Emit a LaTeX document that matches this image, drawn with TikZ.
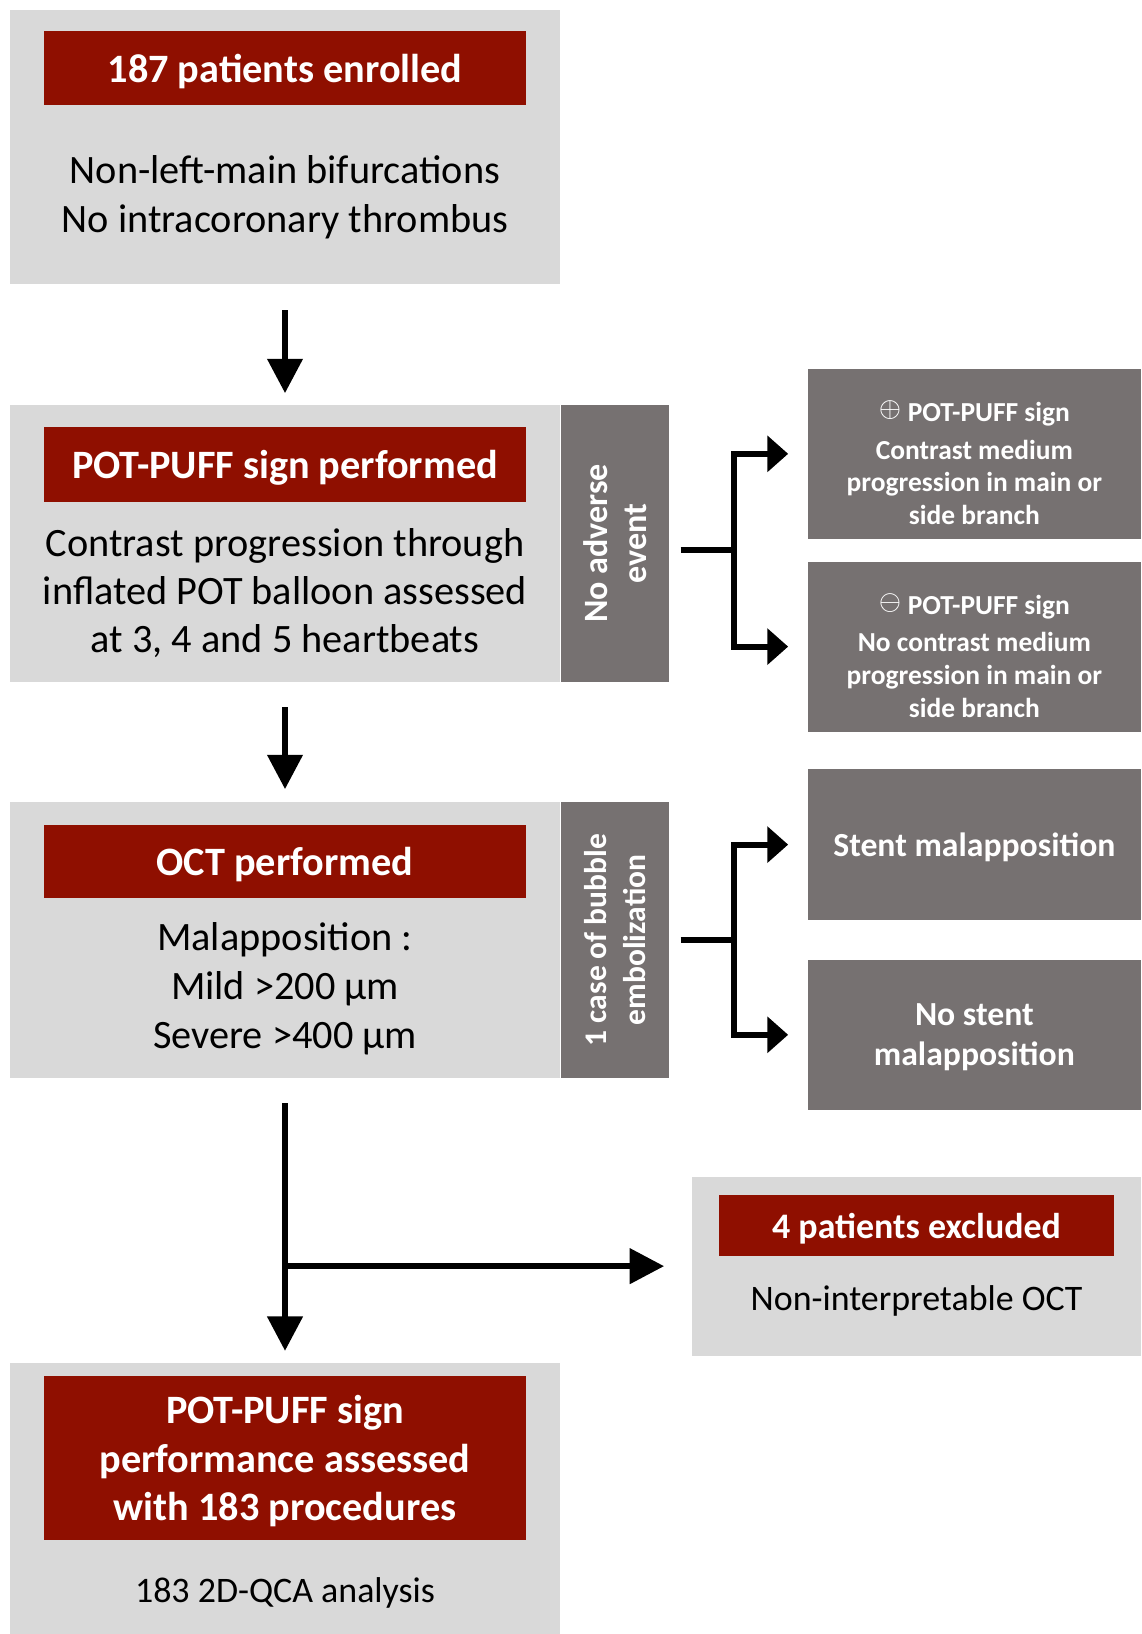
\documentclass[tikz,border=0pt]{standalone}
\usepackage{fontspec}
\setmainfont{Carlito}
\usepackage{tikz}
\usetikzlibrary{arrows.meta,positioning,calc}
\definecolor{potred}{RGB}{143,15,0}
\definecolor{lightgrey}{RGB}{217,217,217}
\definecolor{slate}{RGB}{118,113,113}

\begin{document}
\begin{tikzpicture}[
    lbox/.style={fill=lightgrey, minimum width=5.27cm, inner sep=0pt},
    title/.style={fill=potred, text=white, inner sep=0pt, align=center, text depth=0pt,
                  minimum width=4.63cm, font=\fontsize{11}{13.2}\selectfont\bfseries},
    body/.style={inner sep=0pt, align=center, font=\fontsize{11}{13.4}\selectfont},
    strip/.style={fill=slate, text=white, rotate=90, anchor=north, inner sep=0pt,
                  align=center, minimum width=2.65cm, minimum height=1.04cm,
                  font=\fontsize{8.8}{10.8}\selectfont\bfseries},
    dbox/.style={fill=slate, text=white, inner sep=0pt, align=center, text depth=0pt,
                 minimum width=3.2cm, font=\fontsize{9.2}{11}\selectfont\bfseries},
    dtxt/.style={text=white, inner sep=0pt, align=center,
                 font=\fontsize{7.5}{8.9}\selectfont\bfseries},
    arr/.style={-{Triangle[length=0.33cm, width=0.33cm]}, line width=1.7pt},
    sarr/.style={-{Triangle[length=0.2cm, width=0.34cm]}, line width=1.7pt, shorten >=0.18cm},
    ln/.style={line width=1.7pt}
  ]
  \useasboundingbox (0,0) rectangle (10.95,-15.68);

  \node[lbox, minimum height=2.63cm] (enr) at (2.735,-1.415) {};
  \node[title, minimum height=0.71cm, below=0.2cm of enr.north] (enrT) {187 patients enrolled};
  \node[body, yshift=-0.02cm] (enrB) at ($(enrT.south)!.5!(enr.south)$) {Non-left-main bifurcations\\No intracoronary thrombus};

  \node[lbox, minimum height=2.65cm] (puff) at (2.735,-5.215) {};
  \node[strip, font=\fontsize{9.3}{10.8}\selectfont\bfseries] (puffS) at (puff.east) {No adverse\\event};
  \node[title, minimum height=0.72cm, below=0.21cm of puff.north] (puffT) {POT-PUFF sign performed};
  \node[body, font=\fontsize{11}{13.1}\selectfont] (puffB) at ($(puffT.south)!.5!(puff.south)$) {Contrast progression through\\inflated POT balloon assessed\\at 3, 4 and 5 heartbeats};

  \node[dbox, minimum height=1.63cm] (pos) at (9.35,-4.355) {};
  \node[dtxt] (posT) at ([yshift=-0.085cm]pos.center)
    {\raisebox{.35ex}{$\oplus$} POT-PUFF sign\\[0.05cm]Contrast medium\\progression in main or\\side branch};
  \node[dbox, minimum height=1.63cm] (neg) at (9.35,-6.205) {};
  \node[dtxt] (negT) at ([yshift=-0.085cm]neg.center)
    {\raisebox{.35ex}{$\ominus$} POT-PUFF sign\\[0.05cm]No contrast medium\\progression in main or\\side branch};

  \node[lbox, minimum height=2.64cm] (oct) at (2.735,-9.02) {};
  \node[strip, font=\fontsize{8.6}{10.8}\selectfont\bfseries] (octS) at (oct.east) {1 case of bubble\\embolization};
  \node[title, minimum height=0.70cm, below=0.22cm of oct.north] (octT) {OCT performed};
  \node[body] (octB) at ($(octT.south)!.5!(oct.south)$) {Malapposition :\\Mild >200 µm\\Severe >400 µm};

  \node[dbox, minimum height=1.45cm] (mal) at (9.35,-8.105) {Stent malapposition};
  \node[dbox, minimum height=1.44cm] (nomal) at (9.35,-9.93) {No stent\\malapposition};

  \node[lbox, minimum width=4.31cm, minimum height=1.72cm] (excl) at (8.795,-12.15) {};
  \node[title, minimum width=3.79cm, minimum height=0.58cm, font=\fontsize{9.8}{12}\selectfont\bfseries,
        below=0.18cm of excl.north] (exclT) {4 patients excluded};
  \node[body, font=\fontsize{9.8}{12}\selectfont, yshift=0.05cm] (exclB) at ($(exclT.south)!.5!(excl.south)$) {Non-interpretable OCT};

  \node[lbox, minimum height=2.6cm] (fin) at (2.735,-14.38) {};
  \node[title, minimum height=1.58cm, below=0.12cm of fin.north] (finT) {POT-PUFF sign\\performance assessed\\with 183 procedures};
  \node[body, font=\fontsize{9.8}{12}\selectfont, yshift=-0.05cm] (finB) at ($(finT.south)!.5!(fin.south)$) {183 2D-QCA analysis};

  \draw[arr, shorten <=0.24cm, shorten >=0.11cm] (enr) -- (puff);
  \draw[arr, shorten <=0.24cm, shorten >=0.12cm] (puff) -- (oct);
  \draw[arr, shorten <=0.24cm, shorten >=0.11cm] (oct) -- (fin);
  \draw[arr, shorten >=0.26cm] (oct.south |- excl.west) -- (excl.west);

  \coordinate (j1) at ($(pos.west)!.5!(neg.west) + (-0.7,0)$);
  \draw[ln] ([xshift=0.1cm]puffS.south |- j1) -- (j1);
  \draw[sarr] (j1) |- (pos);
  \draw[sarr] (j1) |- (neg);

  \coordinate (j2) at ($(mal.west)!.5!(nomal.west) + (-0.7,0)$);
  \draw[ln] ([xshift=0.1cm]octS.south |- j2) -- (j2);
  \draw[sarr] (j2) |- (mal);
  \draw[sarr] (j2) |- (nomal);
\end{tikzpicture}
\end{document}
